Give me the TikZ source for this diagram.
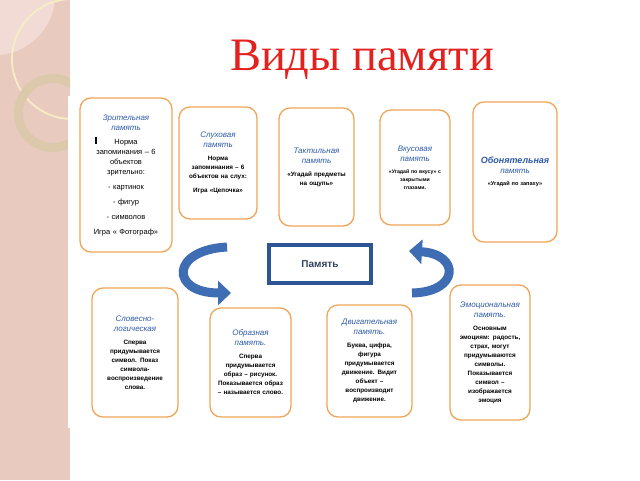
\documentclass[tikz,border=0pt]{standalone}
\usepackage{fontspec}
\setmainfont{Liberation Serif}
\setsansfont{Liberation Sans}
\definecolor{memOrange}{HTML}{EFA65A}
\definecolor{memBlue}{HTML}{2E5AA8}
\definecolor{memArrow}{HTML}{3F6DB4}
\definecolor{memTitle}{HTML}{E3221F}
\definecolor{memBand}{HTML}{E8CABF}
\definecolor{memCorner}{HTML}{F1DBD4}
\definecolor{memCream}{HTML}{F7EDC4}
\definecolor{memRing}{HTML}{DCC9AC}
\definecolor{memFrame}{HTML}{2F5496}
\definecolor{memText}{HTML}{34435F}
\usetikzlibrary{arrows.meta, calc}
\newcommand{\memhead}[1]{{\fontsize{8}{10}\selectfont\mdseries\itshape\color{memBlue}#1\par}\vspace{4pt}}

\begin{document}
\begin{tikzpicture}[x=1pt, y=-1pt,
  mbox/.style={draw=memOrange, line width=1.3pt, rounded corners=11pt, fill=white,
    align=center, inner sep=2pt, font=\sffamily\bfseries\fontsize{6.3}{9}\selectfont},
  memframe/.style={draw=memFrame, line width=3.5pt, fill=white, text=memText,
    font=\sffamily\bfseries\fontsize{10}{12}\selectfont},
  flowarrow/.style={memArrow, line width=9pt, -{Triangle[width=24pt,length=13pt]}}]
  \useasboundingbox (0,0) rectangle (640,480);
  % left band
  \fill[memBand] (0,0) rectangle (70,480);
  \begin{scope}
    \clip (0,0) rectangle (70,480);
    \fill[memCorner] (-5,-5) circle (60pt);
    \draw[memCream, line width=1.8pt] (72,59) circle (60pt);
    \draw[memRing, line width=9pt] (53,113) circle (34.5pt);
  \end{scope}
  \fill[white] (68,96) rectangle (566,428);

  \node[font=\fontsize{46.5}{50}\selectfont, text=memTitle] (title) at (362,60) {Виды памяти};

  % top row
  \node[mbox, minimum width=92pt, minimum height=154pt, text width=86pt,
    font=\sffamily\mdseries\fontsize{7.5}{10}\selectfont] (vis) at (126,175) {
    \memhead{Зрительная\\память}Норма\\запоминания – 6\\объектов\\зрительно:\\[5pt]- картинок\\[5pt]- фигур\\[5pt]- символов\\[5pt]Игра « Фотограф»};
  \node[mbox, minimum width=78pt, minimum height=112pt, text width=72pt] (aud) at (218,163) {
    \memhead{Слуховая\\память}Норма\\запоминания – 6\\объектов на слух:\\[5pt]Игра «Цепочка»};
  \node[mbox, minimum width=75pt, minimum height=118pt, text width=70pt] (tact) at (316.5,167) {
    \memhead{Тактильная\\память}«Угадай предметы\\на ощупь»\par\vspace{4pt}};
  \node[mbox, minimum width=70pt, minimum height=115pt, text width=64pt,
    font=\sffamily\bfseries\fontsize{5.2}{8}\selectfont] (taste) at (415,167.5) {
    \memhead{Вкусовая\\память}«Угадай по вкусу» с\\закрытыми\\глазами.\par\vspace{10pt}};
  \node[mbox, minimum width=84pt, minimum height=140pt, text width=78pt,
    font=\sffamily\bfseries\fontsize{5.6}{8}\selectfont] (smell) at (515,172) {
    {\fontsize{9}{11}\selectfont\itshape\color{memBlue}Обонятельная\par}
    \memhead{память}«Угадай по запаху»\par\vspace{12pt}};

  % centre
  \node[memframe, minimum width=103pt, minimum height=39pt] (mem) at (320,264) {Память};
  \draw[memFrame, line width=0.9pt] ($(mem.north west)+(4,4)$) rectangle ($(mem.south east)+(-4,-4)$);
  \coordinate (la1) at (227,247);
  \coordinate (la2) at (231,293);
  \coordinate (ra1) at (412,293);
  \coordinate (ra2) at (409,251);
  \draw[flowarrow] (la1) .. controls (170,250) and (170,293) .. (la2);
  \draw[flowarrow] (ra1) .. controls (460,292) and (460,254) .. (ra2);

  % bottom row
  \node[mbox, minimum width=86pt, minimum height=129pt, text width=80pt] (verb) at (135,352.5) {
    \memhead{Словесно-\\логическая}Сперва\\придумывается\\символ. Показ\\символа-\\воспроизведение\\слова.};
  \node[mbox, minimum width=81pt, minimum height=109pt, text width=76pt] (fig) at (250.5,362.5) {
    \memhead{Образная\\память.}Сперва\\придумывается\\образ – рисунок.\\Показывается образ\\– называется слово.};
  \node[mbox, minimum width=85pt, minimum height=112pt, text width=79pt] (motor) at (369.5,361) {
    \memhead{Двигательная\\память.}Буква, цифра,\\фигура\\придумывается\\движение. Видит\\объект –\\воспроизводит\\движение.\par\vspace{6pt}};
  \node[mbox, minimum width=80pt, minimum height=135pt, text width=75pt] (emo) at (490,352.5) {
    \memhead{Эмоциональная\\память.}Основным\\эмоциям: радость,\\страх, могут\\придумываются\\символы.\\Показывается\\символ –\\изображается\\эмоция};

  % cursor mark
  \draw[line width=1.2pt] (96,137) -- (96,144);
\end{tikzpicture}
\end{document}
